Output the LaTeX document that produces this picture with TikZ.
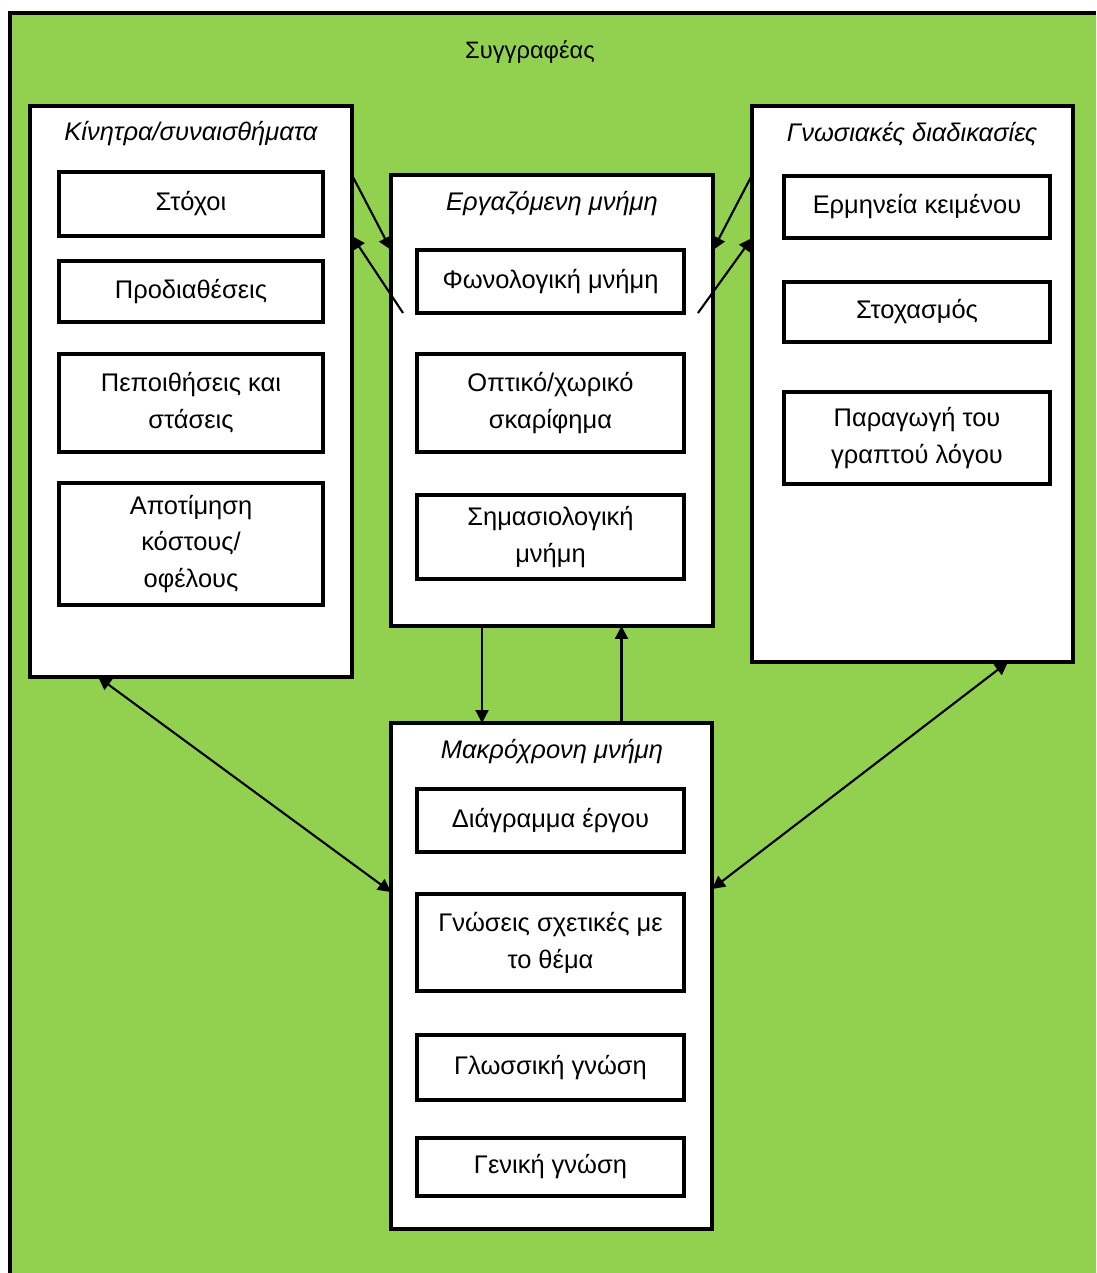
\documentclass[tikz,border=0pt]{standalone}
\usepackage{fontspec}
\setmainfont{Liberation Sans}
\usetikzlibrary{arrows.meta}
\definecolor{leafgreen}{HTML}{92D050}
\begin{document}
\begin{tikzpicture}[x=0.02cm,y=-0.02cm,line width=2pt,
    bigbox/.style={draw,fill=white,minimum width=6.44cm,outer sep=0pt},
    smallbox/.style={draw,fill=white,align=center,outer sep=0pt,font=\fontsize{14.5}{21}\selectfont},
    boxtitle/.style={font=\fontsize{14.5}{16}\selectfont\itshape},
    arr/.style={line width=1.2pt,-{Triangle[length=2.6mm,width=2.6mm]}},
    darr/.style={line width=1.2pt,{Triangle[length=2.6mm,width=2.6mm]}-{Triangle[length=2.6mm,width=2.6mm]}}]
      \useasboundingbox (0,0) rectangle (1096,1273);
      \fill[leafgreen] (10,13) rectangle (1096,1273);
      \draw[line width=2.2pt] (10,1273) -- (10,13) -- (1096,13);
      \path (530,52) node[font=\fontsize{13.5}{16}\selectfont] (writer) {Συγγραφέας};

      \path (191,391.5) node[bigbox,minimum height=11.42cm] (motiv) {};
      \path (552,400.5) node[bigbox,minimum height=9.02cm] (work) {};
      \path (912.5,384) node[bigbox,minimum width=6.42cm,minimum height=11.12cm] (cogn) {};
      \path (551.5,976) node[bigbox,minimum width=6.42cm,minimum height=10.12cm] (long) {};

      \path (191,134) node[boxtitle] (motivtitle) {Κίνητρα/συναισθήματα};
      \path (552,204) node[boxtitle] (worktitle) {Εργαζόμενη μνήμη};
      \path (912,134) node[boxtitle] (cogntitle) {Γνωσιακές διαδικασίες};
      \path (552,752) node[boxtitle] (longtitle) {Μακρόχρονη μνήμη};

      % κίνητρα
      \path (191,204) node[smallbox,minimum width=5.28cm,minimum height=1.28cm] (goals) {Στόχοι};
      \path (191,291.5) node[smallbox,minimum width=5.28cm,minimum height=1.22cm] (predisp) {Προδιαθέσεις};
      \path (191,403) node[smallbox,minimum width=5.28cm,minimum height=1.96cm] (beliefs) {Πεποιθήσεις και\\στάσεις};
      \path (191,544) node[smallbox,minimum width=5.28cm,minimum height=2.44cm] (costs) {Αποτίμηση\\κόστους/\\οφέλους};

      % εργαζόμενη μνήμη
      \path (550.5,281.5) node[smallbox,minimum width=5.34cm,minimum height=1.26cm] (phon) {Φωνολογική μνήμη};
      \path (550.5,403) node[smallbox,minimum width=5.34cm,minimum height=1.96cm] (visual) {Οπτικό/χωρικό\\σκαρίφημα};
      \path (550.5,537) node[smallbox,minimum width=5.34cm,minimum height=1.68cm] (semant) {Σημασιολογική\\μνήμη};

      % γνωσιακές διαδικασίες
      \path (917,207) node[smallbox,minimum width=5.32cm,minimum height=1.24cm] (interp) {Ερμηνεία κειμένου};
      \path (917,312) node[smallbox,minimum width=5.32cm,minimum height=1.20cm] (reflect) {Στοχασμός};
      \path (917,438) node[smallbox,minimum width=5.32cm,minimum height=1.84cm] (produce) {Παραγωγή του\\γραπτού λόγου};

      % μακρόχρονη μνήμη
      \path (550.5,820.5) node[smallbox,minimum width=5.34cm,minimum height=1.26cm] (plan) {Διάγραμμα έργου};
      \path (550.5,942.5) node[smallbox,minimum width=5.34cm,minimum height=1.94cm] (topic) {Γνώσεις σχετικές με\\το θέμα};
      \path (550.5,1067.5) node[smallbox,minimum width=5.34cm,minimum height=1.30cm] (lang) {Γλωσσική γνώση};
      \path (550.5,1167) node[smallbox,minimum width=5.34cm,minimum height=1.16cm] (general) {Γενική γνώση};

      \draw[arr] (motiv.east |- work.north) -- (work.west |- phon.north); %motiv-work
      \draw[arr] ([xshift=0.24cm]work.west |- phon.south) -- (motiv.east |- goals.south); %work-motiv
      \draw[arr] (cogn.west |- work.north) -- (work.east |- phon.north); %cogn-work
      \draw[arr] ([xshift=-0.3cm]work.east |- phon.south) -- (cogn.west |- interp.south); %work-cogn
      \draw[arr] ([xshift=-1.4cm]work.south) -- ([xshift=-1.4cm]work.south |- long.north); %work-long
      \draw[arr] ([xshift=1.4cm]long.north) -- ([xshift=1.4cm]long.north |- work.south); %long-work
      \draw[darr] ([xshift=1.36cm]motiv.south west) -- ([yshift=1.68cm]long.west); %motiv-long
      \draw[darr] ([xshift=-1.3cm]cogn.south east) -- ([yshift=1.74cm]long.east); %cogn-long

    \end{tikzpicture}
\end{document}
